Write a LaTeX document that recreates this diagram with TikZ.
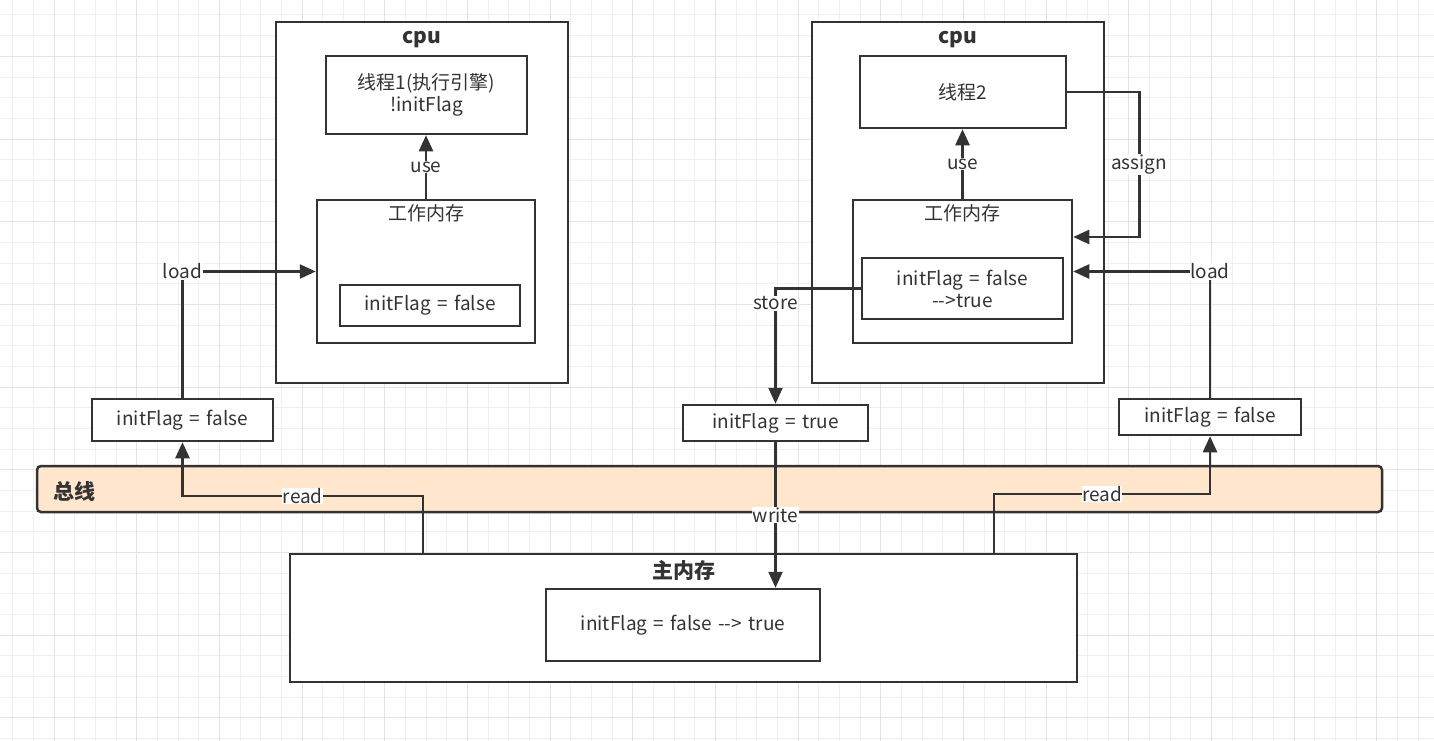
\documentclass[tikz,border=0pt]{standalone}
\usepackage{fontspec}
\setmainfont[WordSpace=1.5]{Noto Sans CJK SC}
\usetikzlibrary{arrows.meta}
\definecolor{inkgray}{HTML}{333333}
\definecolor{busfill}{HTML}{FFE6CC}
\definecolor{gridminor}{HTML}{F0F0F0}
\definecolor{gridmajor}{HTML}{E4E4E4}

\begin{document}
\begin{tikzpicture}[x=1pt,y=-1pt,color=inkgray,
  box/.style={draw=inkgray,line width=2.5pt,fill=white,inner sep=0pt,align=center,
    font=\fontsize{19}{22}\selectfont},
  wire/.style={line width=2.5pt,-{Triangle[length=16pt,width=14pt]}},
  lbl/.style={fill=white,inner sep=0.5pt,font=\fontsize{19}{22}\selectfont},
  heading/.style={inner sep=0pt,font=\bfseries\fontsize{21}{24}\selectfont},
  sub/.style={inner sep=0pt,font=\fontsize{19}{22}\selectfont}]
  \useasboundingbox (0,0) rectangle (1434,741);
  \fill[white] (0,0) rectangle (1434,741);
  % grid
  \foreach \gx in {12.67,33.34,...,1434} \draw[gridminor,line width=1pt] (\gx,0) -- (\gx,741);
  \foreach \gy in {15,35.67,...,741} \draw[gridminor,line width=1pt] (0,\gy) -- (1434,\gy);
  \foreach \gx in {54,136.67,...,1434} \draw[gridmajor,line width=1pt] (\gx,0) -- (\gx,741);
  \foreach \gy in {56.33,139,...,741} \draw[gridmajor,line width=1pt] (0,\gy) -- (1434,\gy);

  % left cpu
  \node[box,minimum width=292pt,minimum height=361pt] (cpuA) at (422,202.5) {};
  \node[heading] at (422,40) {cpu};
  \node[box,minimum width=201pt,minimum height=78pt] (threadA) at (426.5,95) {线程1(执行引擎)\\!initFlag};
  \node[box,minimum width=218pt,minimum height=143pt] (wmA) at (426,271.5) {};
  \node[sub] at (426,213) {工作内存};
  \node[box,minimum width=180pt,minimum height=41pt] (flagA) at (430,305.5) {initFlag = false};

  % right cpu
  \node[box,minimum width=292pt,minimum height=361pt] (cpuB) at (958,202.5) {};
  \node[heading] at (958,40) {cpu};
  \node[box,minimum width=206pt,minimum height=72pt] (threadB) at (963,92) {线程2};
  \node[box,minimum width=219pt,minimum height=143pt] (wmB) at (962.5,271.5) {};
  \node[sub] at (962.5,213) {工作内存};
  \node[box,minimum width=201pt,minimum height=61pt] (flagB) at (962.5,288.5) {initFlag = false\\-{}->true};

  % copies on the way
  \node[box,minimum width=181pt,minimum height=42pt] (copyL) at (182.5,420) {initFlag = false};
  \node[box,minimum width=185pt,minimum height=36pt] (copyM) at (775.5,423) {initFlag = true};
  \node[box,minimum width=182pt,minimum height=36pt] (copyR) at (1210,417) {initFlag = false};

  % bus and main memory
  \node[box,fill=busfill,rounded corners=4pt,minimum width=1345pt,minimum height=46pt] (bus) at (709.5,489) {};
  \node[heading] at (74,491) {总线};
  \node[box,minimum width=787pt,minimum height=128pt] (mainmem) at (683.5,618) {};
  \node[heading] at (684,570) {主内存};
  \node[box,minimum width=274pt,minimum height=72pt] (mainflag) at (683,625) {initFlag = false -{}-> true};

  \draw[wire] (wmA.north) -- node[lbl] {use} (wmA.north |- threadA.south);
  \draw[wire] (wmB.north) -- node[lbl] {use} (wmB.north |- threadB.south);
  \draw[wire] (copyL.north) |- node[lbl,pos=0.5] {load} (wmA.west);
  \draw[wire] (copyR.north) |- node[lbl,pos=0.5] {load} (wmB.east);
  \draw[wire] (threadB.east) -- ++(72,0) -- node[lbl] {assign} ++(0,145) -- ([yshift=34.5pt]wmB.east);
  \draw[wire] (flagB.west) -| node[lbl,pos=0.565] {store} (copyM.north);
  \draw[wire] (copyM.south) -- node[lbl] {write} (copyM.south |- mainflag.north);
  \draw[wire] ([xshift=-260.5pt]mainmem.north) -- ++(0,-57) -| node[lbl,pos=0.25] {read} (copyL.south);
  \draw[wire] ([xshift=310.5pt]mainmem.north) -- ++(0,-59) -| node[lbl,pos=0.25] {read} (copyR.south);
\end{tikzpicture}
\end{document}
